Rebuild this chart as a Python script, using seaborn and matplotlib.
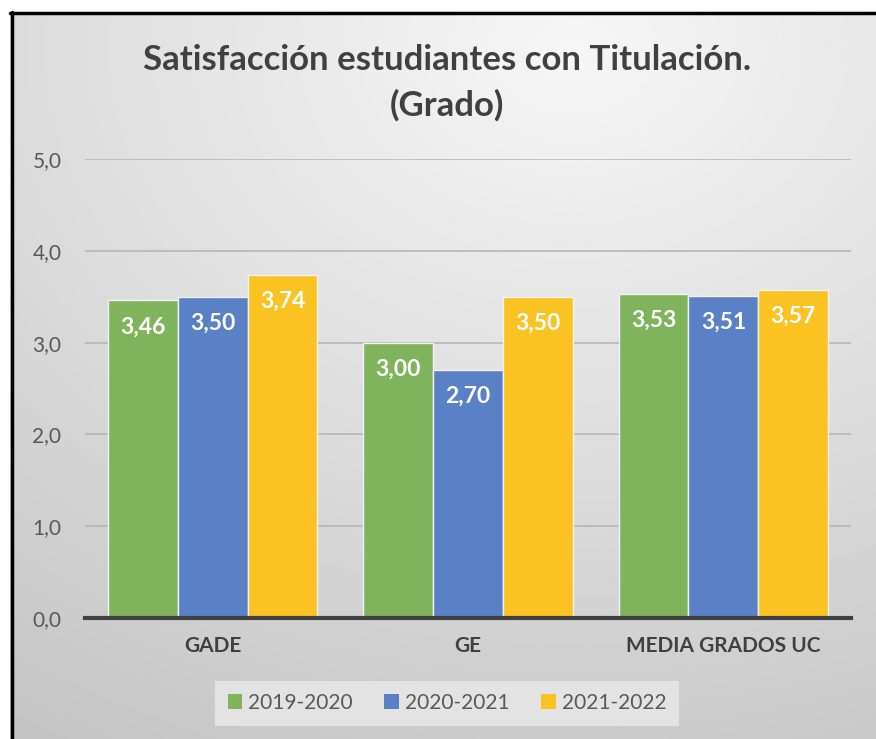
import numpy as np
import pandas as pd
import matplotlib
matplotlib.use("Agg")
import matplotlib.pyplot as plt
import seaborn as sns
from matplotlib.ticker import FuncFormatter

# data
categories = ["GADE", "GE", "MEDIA GRADOS UC"]
years = ["2019-2020", "2020-2021", "2021-2022"]
vals_1920 = [3.46, 3.00, 3.53]
vals_2021 = [3.50, 2.70, 3.51]
vals_2122 = [3.74, 3.50, 3.57]
colors = ["#80B45C", "#5A80C6", "#FAC322"]

df = pd.DataFrame({
    "Titulacion": categories * 3,
    "Curso": [years[0]] * 3 + [years[1]] * 3 + [years[2]] * 3,
    "Valor": vals_1920 + vals_2021 + vals_2122,
})

sns.set_theme(style="white")
plt.rcParams["font.family"] = ["Lato", "DejaVu Sans"]

fig = plt.figure(figsize=(8.76, 7.39), dpi=100)
fig.patch.set_facecolor("white")

# gradient background of the chart box
bg = fig.add_axes([10 / 876, 0, 1 - 10 / 876, 1 - 12 / 739], zorder=-5)
yy, xx = np.mgrid[0:1:300j, 0:1:300j]
dist = np.sqrt(((xx - 0.65) * 1.0) ** 2 + ((yy - 0.05) * 1.1) ** 2)
shade = 0.965 - 0.16 * np.clip(dist, 0, 1.2)
bg.imshow(shade, cmap="gray", vmin=0, vmax=1, aspect="auto",
          extent=[0, 1, 1, 0], interpolation="bilinear")
bg.set_xlim(0, 1)
bg.set_ylim(1, 0)
bg.axis("off")
fig.add_artist(plt.Line2D([11.5 / 876, 11.5 / 876], [0, 1 - 12 / 739],
                          transform=fig.transFigure, color="black", lw=2.5))
fig.add_artist(plt.Line2D([10 / 876, 1], [1 - 13 / 739, 1 - 13 / 739],
                          transform=fig.transFigure, color="black", lw=2.5))

ax = fig.add_axes([85 / 876, 1 - 618 / 739, (851 - 85) / 876, (618 - 159) / 739])
ax.patch.set_alpha(0)

sns.barplot(data=df, x="Titulacion", y="Valor", hue="Curso", order=categories,
            hue_order=years, palette=colors, width=0.82, saturation=1,
            edgecolor="#f2f2f2", linewidth=1, ax=ax, zorder=3)

ax.set_ylim(0, 5)
ax.set_yticks([0, 1, 2, 3, 4, 5])
ax.yaxis.set_major_formatter(FuncFormatter(lambda v, p: f"{v:.1f}".replace(".", ",")))
ax.grid(axis="y", color="#b3b3b3", linewidth=1.1, zorder=0)
ax.set_axisbelow(True)
for s in ["top", "right", "left"]:
    ax.spines[s].set_visible(False)
ax.spines["bottom"].set_color("#404040")
ax.spines["bottom"].set_linewidth(3)
ax.spines["bottom"].set_zorder(5)
ax.tick_params(axis="y", length=0, pad=17, labelsize=15, labelcolor="#595959")
ax.tick_params(axis="x", length=0, pad=13, labelsize=15, labelcolor="#404040")
for lbl in ax.get_xticklabels():
    lbl.set_fontweight("bold")
ax.set_xlabel("")
ax.set_ylabel("")

# white value labels inside the top of each bar
for cont in ax.containers:
    for bar in cont:
        h = bar.get_height()
        ax.annotate(f"{h:.2f}".replace(".", ","),
                    (bar.get_x() + bar.get_width() / 2, h),
                    xytext=(0, -19), textcoords="offset points",
                    ha="center", va="center", color="white",
                    fontsize=16.5, fontweight="bold", zorder=6)

fig.text(447 / 876, 1 - 83 / 739,
         "Satisfacción estudiantes con Titulación.\n(Grado)",
         ha="center", va="center", fontsize=25, fontweight="bold",
         color="#404040", linespacing=1.5)

ax.legend_.remove()
handles = [plt.Rectangle((0, 0), 1, 1, facecolor=c, edgecolor="none") for c in colors]
leg = fig.legend(handles, years, loc="center", ncol=3,
                 bbox_to_anchor=(447 / 876, 1 - 703 / 739),
                 frameon=True, fontsize=15, handlelength=0.7, handleheight=0.7,
                 handletextpad=0.3, columnspacing=1.5, borderpad=0.6,
                 fancybox=False)
leg.get_frame().set_facecolor("#e3e3e3")
leg.get_frame().set_edgecolor("none")
leg.get_frame().set_alpha(1)
for t in leg.get_texts():
    t.set_color("#595959")

fig.savefig("out.png", dpi=100)
